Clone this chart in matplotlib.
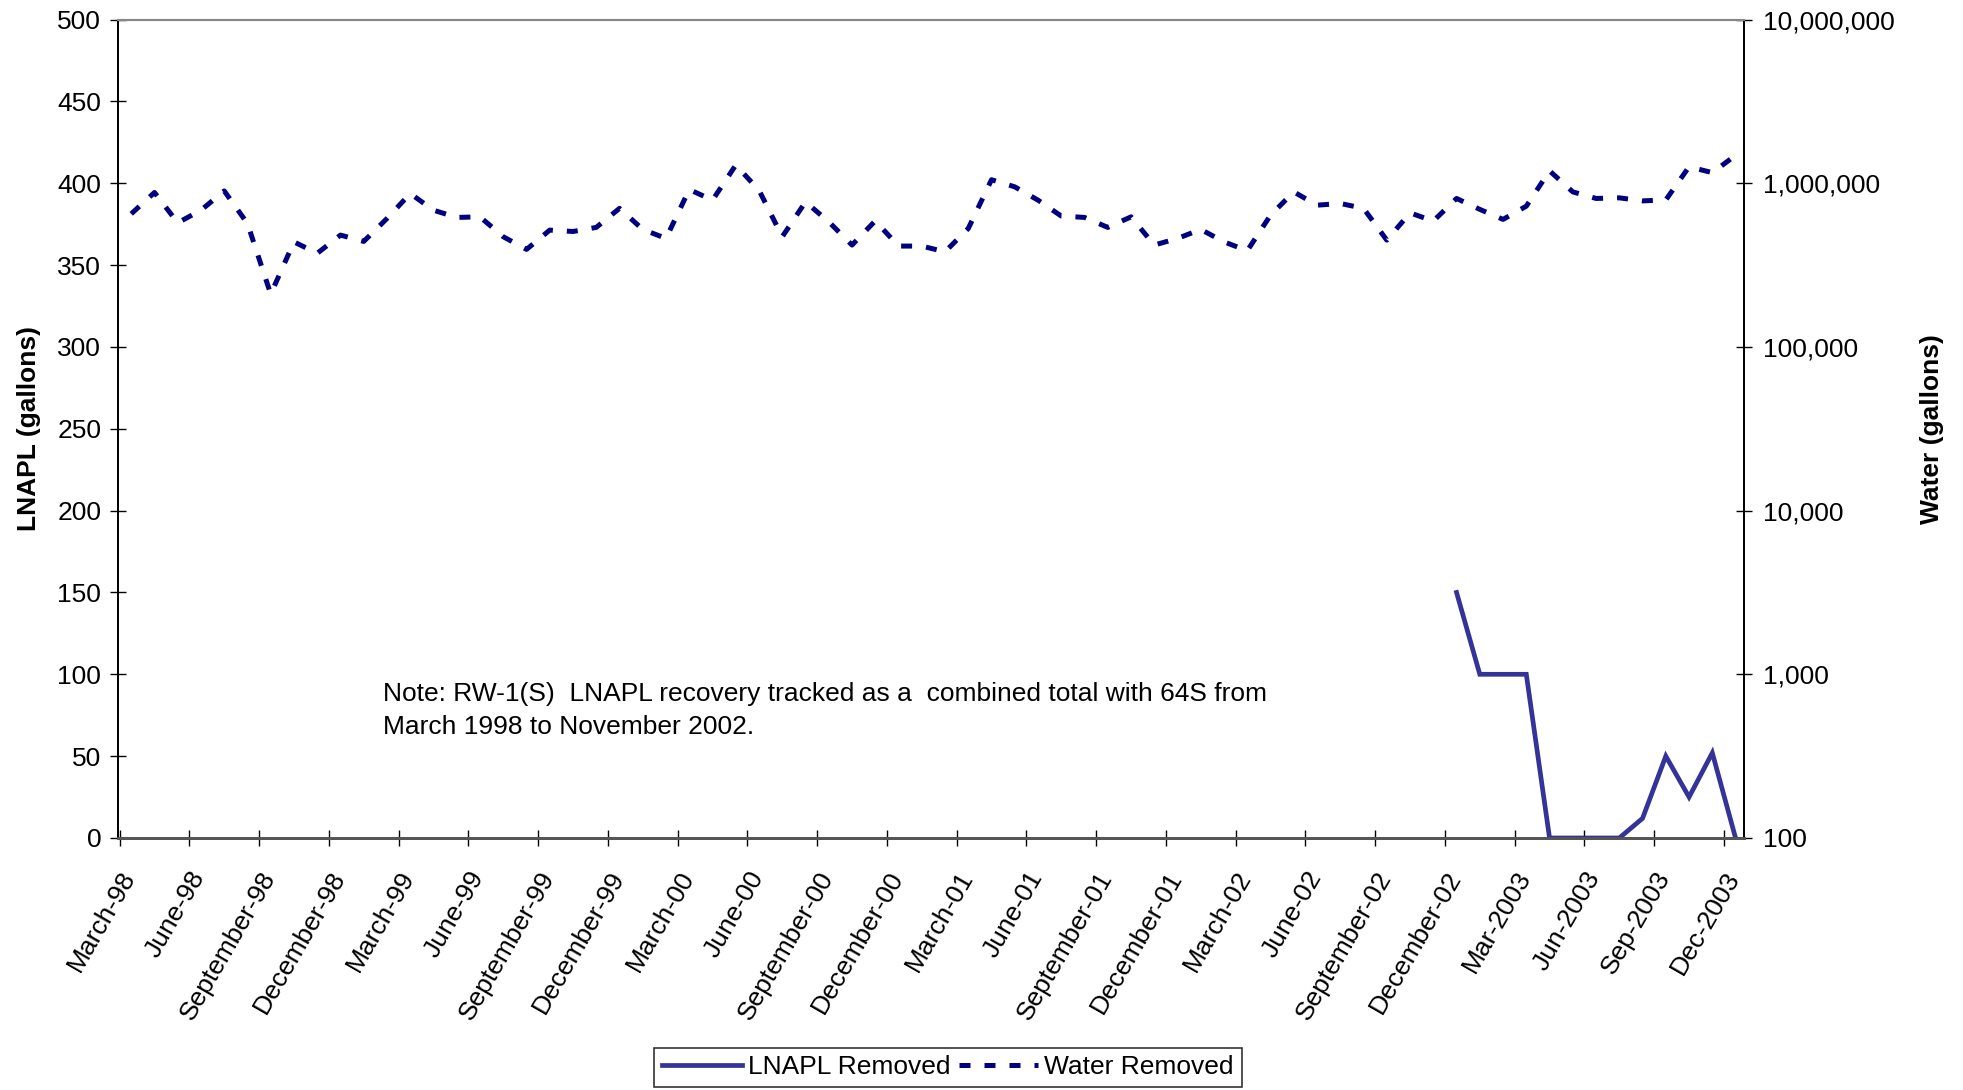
import numpy as np
import matplotlib
matplotlib.use("Agg")
import matplotlib.pyplot as plt
from matplotlib.ticker import FuncFormatter, FixedLocator, NullLocator

plt.rcParams['font.family'] = ['Liberation Sans', 'DejaVu Sans']

# x tick labels, one every 3 months starting March 1998
tick_labels = ["March-98", "June-98", "September-98", "December-98",
               "March-99", "June-99", "September-99", "December-99",
               "March-00", "June-00", "September-00", "December-00",
               "March-01", "June-01", "September-01", "December-01",
               "March-02", "June-02", "September-02", "December-02",
               "Mar-2003", "Jun-2003", "Sep-2003", "Dec-2003"]

# monthly water removed (gallons), Mar-98 .. Dec-03
water = [650000, 878000, 573000, 684000, 897000, 567000, 210000, 438000,
         373000, 482000, 441000, 609000, 865000, 684000, 618000, 623000,
         471000, 394000, 517000, 507000, 537000, 702000, 522000, 460000,
         915000, 788000, 1290000, 906000, 471000, 769000, 581000, 419000,
         589000, 413000, 413000, 381000, 529000, 1050000, 950000, 788000,
         630000, 618000, 537000, 623000, 419000, 460000, 522000, 438000,
         387000, 638000, 885000, 734000, 752000, 702000, 449000, 659000,
         587000, 807000, 692000, 601000, 724000, 1190000, 885000, 807000,
         814000, 780000, 790000, 1260000, 1160000, 1480000]

# LNAPL removed (gallons), tracked separately from Dec-02
lnapl_month = [57, 58, 59, 60, 61, 62, 63, 64, 65, 66, 67, 68, 69]
lnapl = [150, 100, 100, 100, 0, 0, 0, 0, 12, 50, 25, 52, 0]

note = ("Note: RW-1(S)  LNAPL recovery tracked as a  combined total with 64S from\n"
        "March 1998 to November 2002.")

fs = 19
blue = "#333399"
navy = "#000080"

fig = plt.figure(figsize=(19.63, 10.9), dpi=100)
ax = fig.add_axes([0.0601, 0.2312, 0.8283, 0.7509])
ax2 = ax.twinx()

x_water = np.arange(len(water)) + 0.5
x_lnapl = np.array(lnapl_month) + 0.5

l1, = ax.plot(x_lnapl, lnapl, color=blue, lw=3.4, solid_joinstyle='miter',
              label="LNAPL Removed", zorder=3)
l2, = ax2.plot(x_water, water, color=navy, lw=3.6, linestyle=(0, (2.2, 2.8)),
               dash_capstyle='butt', label="Water Removed")

ax.set_xlim(-0.07, 69.86)
ax.set_ylim(0, 500)
ax.set_yticks(np.arange(0, 501, 50))
ax2.set_yscale('log')
ax2.set_ylim(100, 1e7)
ax2.yaxis.set_major_locator(FixedLocator([1e2, 1e3, 1e4, 1e5, 1e6, 1e7]))
ax2.yaxis.set_minor_locator(NullLocator())
ax2.yaxis.set_major_formatter(FuncFormatter(lambda v, p: f"{int(round(v)):,}"))

ax.set_xticks(np.arange(0, 3 * len(tick_labels), 3))
ax.set_xticklabels(tick_labels, rotation=60, ha='right', va='top',
                   rotation_mode='anchor', fontsize=fs)

ax.tick_params(axis='both', direction='inout', length=12, width=1, labelsize=fs)
ax.tick_params(axis='y', pad=6)
ax.tick_params(axis='x', pad=15)
ax2.tick_params(axis='y', direction='inout', length=12, width=1, labelsize=fs, pad=8)

for a in (ax, ax2):
    a.spines['left'].set_color('black')
    a.spines['left'].set_linewidth(1.3)
    a.spines['right'].set_color('black')
    a.spines['right'].set_linewidth(1.3)
    a.spines['top'].set_color('#888888')
    a.spines['top'].set_linewidth(1.5)
    a.spines['bottom'].set_color('#555555')
    a.spines['bottom'].set_linewidth(2)

ax.set_ylabel("LNAPL (gallons)", fontsize=fs, fontweight='bold', labelpad=12)
ax2.set_ylabel("Water (gallons)", fontsize=fs, fontweight='bold', rotation=90, labelpad=18)

ax.text(0.1633, 0.19, note, transform=ax.transAxes, fontsize=fs,
        va='top', ha='left', linespacing=1.45)

leg = fig.legend([l1, l2], ["LNAPL Removed", "Water Removed"], loc='lower center',
                 bbox_to_anchor=(0.483, 0.0), ncol=2, fontsize=fs, frameon=True,
                 fancybox=False, edgecolor='black', handlelength=3.0,
                 columnspacing=0.3, handletextpad=0.25, borderpad=0.3,
                 borderaxespad=0.1)
leg.get_frame().set_linewidth(1.2)

fig.savefig("out.png", dpi=100)
